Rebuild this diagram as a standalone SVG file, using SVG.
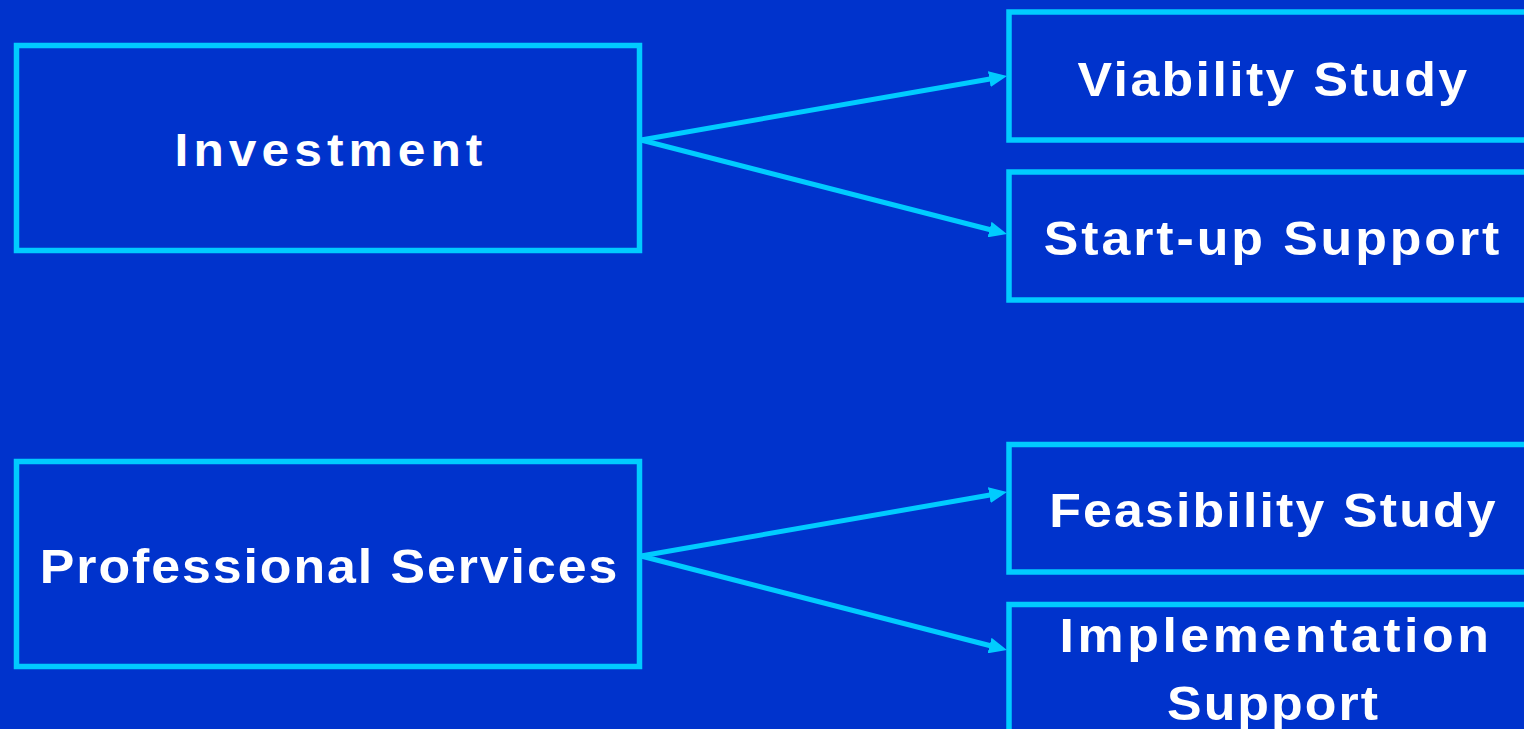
<svg xmlns="http://www.w3.org/2000/svg" width="1524" height="729" viewBox="0 0 1524 729">
<style>
.box{fill:#0033CC;stroke:#00CCFF;stroke-width:5.5}
.lbl{fill:#FFFFFF;font-family:"Liberation Sans",Arial,sans-serif;font-weight:bold;font-size:48px;text-anchor:middle}
.conn{stroke:#00CCFF;stroke-width:5;fill:none}
</style>
<defs>
<marker id="ah" markerUnits="userSpaceOnUse" markerWidth="18" markerHeight="16" refX="8" refY="8" orient="auto">
<path d="M0,0 L18,8 L0,16 z" fill="#00CCFF"/>
</marker>
</defs>
<rect width="1524" height="729" fill="#0033CC"/>
<g id="investment">
<rect class="box" x="16.5" y="45.5" width="623" height="205"/>
<text class="lbl" transform="translate(331,166) scale(1.08,1)" style="font-size:46px;letter-spacing:4.7px">Investment</text>
</g>
<g id="professional-services">
<rect class="box" x="16.5" y="461.5" width="623" height="205"/>
<text class="lbl" transform="translate(329.5,583) scale(1.08,1)" style="letter-spacing:1.8px">Professional Services</text>
</g>
<g id="viability-study">
<rect class="box" x="1009" y="12" width="530" height="128"/>
<text class="lbl" transform="translate(1273.5,96) scale(1.08,1)" style="letter-spacing:2.2px">Viability Study</text>
</g>
<g id="startup-support">
<rect class="box" x="1009" y="172" width="530" height="128"/>
<text class="lbl" transform="translate(1273,255) scale(1.08,1)" style="letter-spacing:2.7px">Start-up Support</text>
</g>
<g id="feasibility-study">
<rect class="box" x="1009" y="444.5" width="530" height="127.5"/>
<text class="lbl" transform="translate(1273.5,527) scale(1.08,1)" style="letter-spacing:2px">Feasibility Study</text>
</g>
<g id="implementation-support">
<rect class="box" x="1009" y="604.5" width="530" height="140"/>
<text class="lbl" transform="translate(1276,652) scale(1.08,1)" style="letter-spacing:3.3px">Implementation</text>
<text class="lbl" transform="translate(1273.5,720) scale(1.08,1)" style="letter-spacing:1.9px">Support</text>
</g>
<g id="connectors">
<line class="conn" x1="641" y1="140" x2="997.2" y2="77.7" marker-end="url(#ah)"/>
<line class="conn" x1="641" y1="140" x2="997.3" y2="231.5" marker-end="url(#ah)"/>
<line class="conn" x1="641" y1="556" x2="997.2" y2="493.7" marker-end="url(#ah)"/>
<line class="conn" x1="641" y1="556" x2="997.3" y2="647.5" marker-end="url(#ah)"/>
</g>
</svg>
